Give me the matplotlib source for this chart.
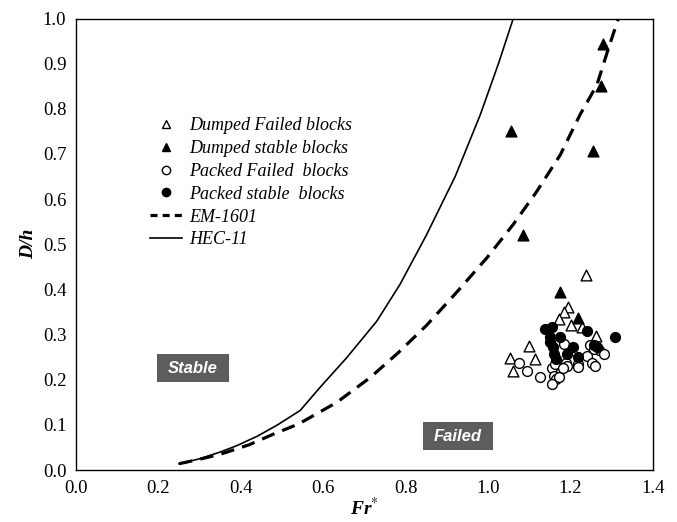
import matplotlib
matplotlib.use("Agg")
import matplotlib.pyplot as plt
from matplotlib.lines import Line2D
from matplotlib.patches import Rectangle

plt.rcParams.update({
    "font.family": "Liberation Serif",
    "mathtext.fontset": "stix",
    "font.size": 13.5,
})

# dumped riprap, failed
dumped_failed_fr = [1.238, 1.195, 1.184, 1.171, 1.201, 1.227, 1.262, 1.100, 1.052, 1.114, 1.060]
dumped_failed_dh = [0.433, 0.361, 0.351, 0.334, 0.322, 0.316, 0.296, 0.274, 0.248, 0.246, 0.220]
# dumped riprap, stable
dumped_stable_fr = [1.056, 1.279, 1.274, 1.255, 1.085, 1.175, 1.219]
dumped_stable_dh = [0.751, 0.943, 0.850, 0.706, 0.521, 0.395, 0.336]
# packed blocks, failed
packed_failed_fr = [1.076, 1.095, 1.125, 1.155, 1.159, 1.165, 1.155, 1.171, 1.163, 1.189, 1.191,
                    1.217, 1.217, 1.183, 1.240, 1.252, 1.260, 1.248, 1.268, 1.282, 1.258, 1.181]
packed_failed_dh = [0.238, 0.220, 0.207, 0.227, 0.209, 0.202, 0.191, 0.205, 0.235, 0.238, 0.231,
                    0.235, 0.229, 0.279, 0.253, 0.238, 0.231, 0.277, 0.266, 0.257, 0.268, 0.227]
# packed blocks, stable
packed_stable_fr = [1.137, 1.155, 1.149, 1.150, 1.157, 1.160, 1.175, 1.207, 1.191, 1.217, 1.241,
                    1.256, 1.264, 1.307, 1.165]
packed_stable_dh = [0.312, 0.316, 0.294, 0.283, 0.272, 0.257, 0.295, 0.272, 0.257, 0.251, 0.307,
                    0.277, 0.273, 0.294, 0.246]

# design curves
em1601_fr = [0.25, 0.30, 0.35, 0.42, 0.48, 0.54, 0.633, 0.714, 0.782, 0.85, 0.92, 0.997,
             1.061, 1.118, 1.175, 1.223, 1.264, 1.292, 1.316]
em1601_dh = [0.014, 0.024, 0.035, 0.056, 0.080, 0.102, 0.150, 0.205, 0.260, 0.320, 0.390, 0.470,
             0.544, 0.617, 0.698, 0.787, 0.853, 0.934, 1.0]
hec11_fr = [0.25, 0.30, 0.35, 0.39, 0.44, 0.487, 0.544, 0.592, 0.657, 0.730, 0.786, 0.85,
            0.92, 0.981, 1.025, 1.061]
hec11_dh = [0.014, 0.025, 0.040, 0.054, 0.075, 0.099, 0.132, 0.183, 0.249, 0.330, 0.411, 0.52,
            0.65, 0.787, 0.90, 1.0]

fig = plt.figure(figsize=(6.77, 5.22), dpi=100)
ax = fig.add_axes([0.1123, 0.0995, 0.8522, 0.8650])

ax.plot(em1601_fr, em1601_dh, color="black", lw=2.3, dashes=(4.2, 2.6), zorder=2)
ax.plot(hec11_fr, hec11_dh, color="black", lw=1.2, zorder=2)

ax.scatter(dumped_failed_fr, dumped_failed_dh, marker="^", s=60, facecolor="white",
           edgecolor="black", linewidth=1.0, zorder=3)
ax.scatter(packed_failed_fr, packed_failed_dh, marker="o", s=50, facecolor="white",
           edgecolor="black", linewidth=1.0, zorder=3)
ax.scatter(packed_stable_fr, packed_stable_dh, marker="o", s=50, facecolor="black",
           edgecolor="black", linewidth=1.0, zorder=4)
ax.scatter(dumped_stable_fr, dumped_stable_dh, marker="^", s=60, facecolor="black",
           edgecolor="black", linewidth=1.0, zorder=4)

# region labels
for (x0, x1, y0, y1), lab in [((0.197, 0.371, 0.194, 0.258), "Stable"),
                              ((0.842, 1.012, 0.044, 0.106), "Failed")]:
    ax.add_patch(Rectangle((x0, y0), x1 - x0, y1 - y0, facecolor="#5d5d5d",
                           edgecolor="none", zorder=1))
    ax.text((x0 + x1) / 2, (y0 + y1) / 2, lab, ha="center", va="center", color="white",
            fontsize=12, fontweight="bold", style="italic", family="Liberation Sans", zorder=2)

handles = [
    Line2D([], [], ls="none", marker="^", ms=6, mfc="white", mec="black", mew=1.0),
    Line2D([], [], ls="none", marker="^", ms=6, mfc="black", mec="black", mew=1.0),
    Line2D([], [], ls="none", marker="o", ms=6, mfc="white", mec="black", mew=1.0),
    Line2D([], [], ls="none", marker="o", ms=6, mfc="black", mec="black", mew=1.0),
    Line2D([], [], color="black", lw=2.3, dashes=(2.2, 1.6)),
    Line2D([], [], color="black", lw=1.2),
]
labels = ["Dumped Failed blocks", "Dumped stable blocks", "Packed Failed  blocks",
          "Packed stable  blocks", "EM-1601", "HEC-11"]
ax.legend(handles, labels, loc="upper left", bbox_to_anchor=(0.1, 0.817), frameon=False,
          handlelength=1.8, handletextpad=0.35, labelspacing=0.32,
          prop={"family": "Liberation Serif", "style": "italic", "size": 13})

ax.set_xlim(0, 1.4)
ax.set_ylim(0, 1.0)
ax.set_xticks([0.0, 0.2, 0.4, 0.6, 0.8, 1.0, 1.2, 1.4])
ax.set_yticks([0.0, 0.1, 0.2, 0.3, 0.4, 0.5, 0.6, 0.7, 0.8, 0.9, 1.0])
ax.xaxis.set_major_formatter(matplotlib.ticker.FormatStrFormatter("%.1f"))
ax.yaxis.set_major_formatter(matplotlib.ticker.FormatStrFormatter("%.1f"))
ax.tick_params(length=0, labelsize=13.5)
ax.tick_params(axis="x", pad=7)
ax.tick_params(axis="y", pad=7)
for sp in ax.spines.values():
    sp.set_linewidth(1.0)

ax.set_xlabel("Fr$^{*}$", fontsize=14, fontweight="bold", style="italic", labelpad=0)
ax.set_ylabel("D/h", fontsize=14, fontweight="bold", style="italic", labelpad=4)

fig.savefig("out.png", dpi=100)
